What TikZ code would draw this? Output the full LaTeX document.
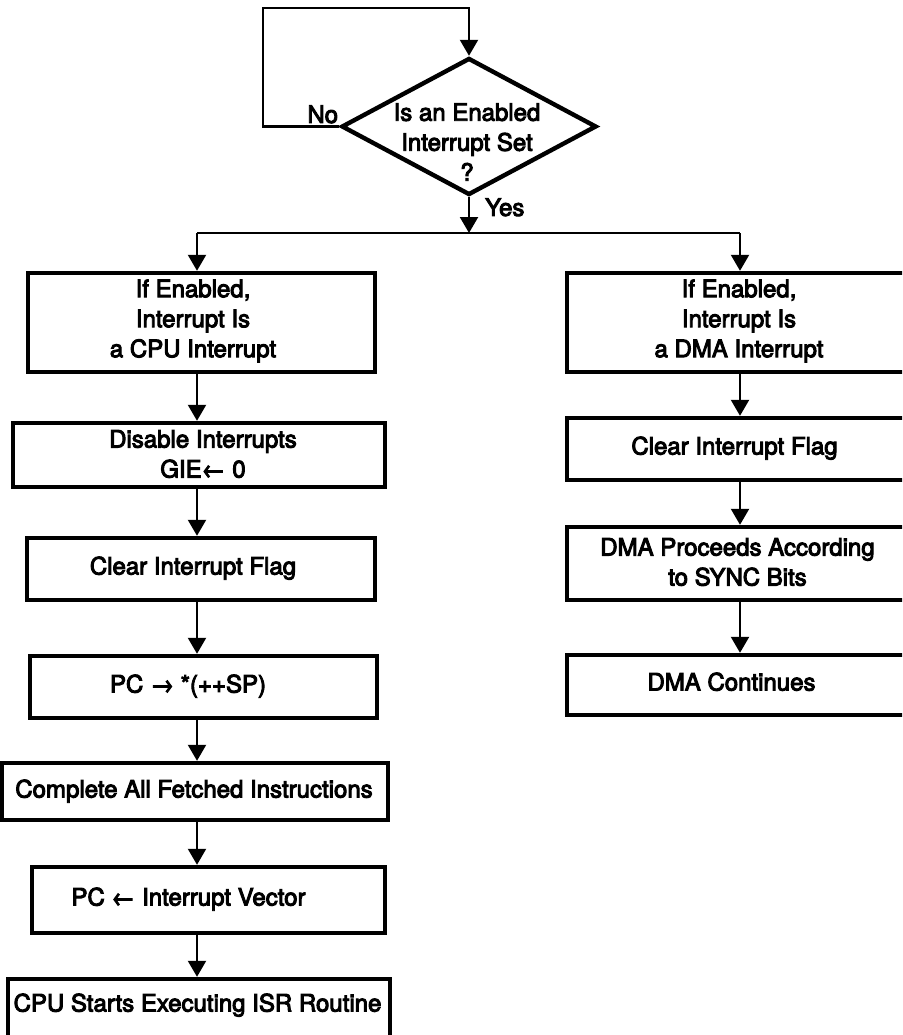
\documentclass[tikz,border=0pt]{standalone}
\usepackage{fontspec}
\setmainfont{TeX Gyre Heros}[FakeBold=4]
\usetikzlibrary{shapes.geometric,arrows.meta}
\begin{document}
\begin{tikzpicture}[x=1pt,y=-1pt,
  box/.style={draw,line width=4.4pt,inner sep=0pt,minimum width=#1},
  txt/.style={font=\fontsize{24}{30}\selectfont,align=center,inner sep=0pt},
  conn/.style={line width=2.2pt},
  arr/.style={conn,-{Triangle[width=18pt,length=16pt]}}]
\useasboundingbox (0,0) rectangle (902,1035);
\clip (0,0) rectangle (902,1035);
% decision
\node[diamond,draw,line width=4.4pt,minimum width=255pt,minimum height=137pt,inner sep=0pt] (d) at (469,126.5) {};
\node[txt] (dt) at (467,142) {Is an Enabled\\Interrupt Set\\?};
\node[txt,anchor=south east] (no) at ([xshift=-1pt,yshift=3pt]d.west) {No};
\node[txt,anchor=north west] (yes) at ([xshift=16pt,yshift=-1pt]d.south) {Yes};
% left column boxes
\node[box=347pt,minimum height=99pt] (L1) at (201.5,322.5) {};
\node[txt] (t1) at (193,321) {If Enabled,\\Interrupt Is\\a CPU Interrupt};
\node[box=372pt,minimum height=64pt] (L2) at (199,455) {};
\node[txt] (t2) at (203,454) {Disable Interrupts\\GIE← 0};
\node[box=348pt,minimum height=62pt] (L3) at (201,569) {};
\node[txt,text height=18pt,text depth=5pt] (t3) at (193,568) {Clear Interrupt Flag};
\node[box=347pt,minimum height=62pt] (L4) at (203.5,687) {};
\node[txt,text height=18pt,text depth=5pt] (t4) at (188,686) {PC → *(++SP)};
\node[box=386pt,minimum height=57pt] (L5) at (195,791.5) {};
\node[txt,text height=18pt,text depth=5pt] (t5) at (194,791) {Complete All Fetched Instructions};
\node[box=353pt,minimum height=66pt] (L6) at (208.5,900) {};
\node[txt,text height=18pt,text depth=5pt] (t6) at (188.5,899) {PC ← Interrupt Vector};
\node[box=382pt,minimum height=100pt] (L7) at (199,1029) {};
\node[txt,text height=18pt,text depth=5pt] (t7) at (197.5,1005) {CPU Starts Executing ISR Routine};
% right column boxes
\node[box=348pt,minimum height=99pt] (R1) at (741,322.5) {};
\node[txt] (r1) at (739,321) {If Enabled,\\Interrupt Is\\a DMA Interrupt};
\node[box=348pt,minimum height=62pt] (R2) at (741,449) {};
\node[txt,text height=18pt,text depth=5pt] (r2) at (734.5,448) {Clear Interrupt Flag};
\node[box=348pt,minimum height=73pt] (R3) at (741,563.5) {};
\node[txt] (r3) at (737.5,562) {DMA Proceeds According\\to SYNC Bits};
\node[box=348pt,minimum height=60pt] (R4) at (741,685) {};
\node[txt,text height=18pt,text depth=5pt] (r4) at (731.5,684) {DMA Continues};
% connectors
\coordinate (lp) at (263,8);
\coordinate (bl) at (197,233);
\coordinate (br) at (740,233);
\draw[arr] (d.west) -| (lp) -| (d.north);
\draw[arr] (d.south) -- (d.south |- bl);
\draw[conn] (bl) -- (br);
\draw[arr] (bl) -- (L1.north -| bl);
\draw[arr] (br) -- (R1.north -| br);
\draw[arr] (L1.south -| bl) -- (L2.north -| bl);
\draw[arr] (L2.south -| bl) -- (L3.north -| bl);
\draw[arr] (L3.south -| bl) -- (L4.north -| bl);
\draw[arr] (L4.south -| bl) -- (L5.north -| bl);
\draw[arr] (L5.south -| bl) -- (L6.north -| bl);
\draw[arr] (L6.south -| bl) -- (L7.north -| bl);
\draw[arr] (R1.south -| br) -- (R2.north -| br);
\draw[arr] (R2.south -| br) -- (R3.north -| br);
\draw[arr] (R3.south -| br) -- (R4.north -| br);
\end{tikzpicture}
\end{document}
